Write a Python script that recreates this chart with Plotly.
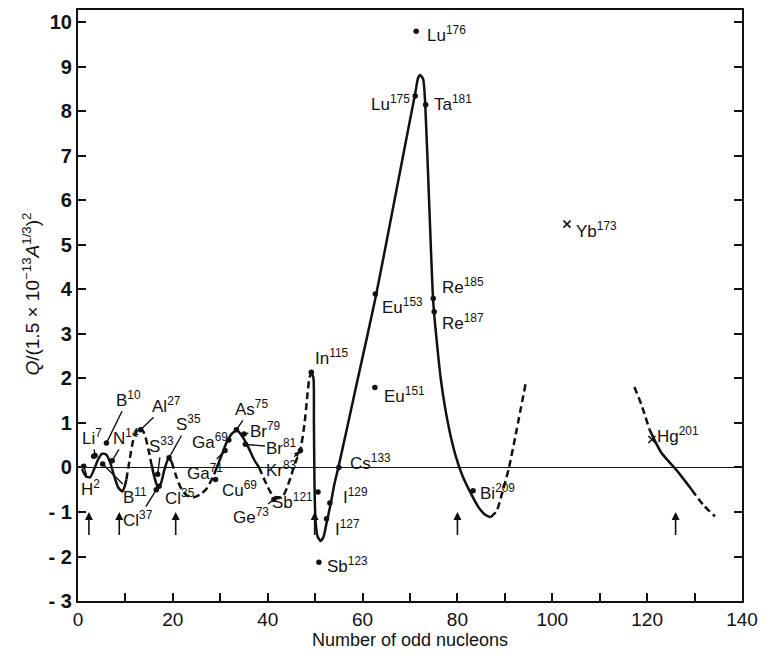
import plotly.graph_objects as go

# ---------------------------------------------------------------
# Reduced electric quadrupole moments vs. number of odd nucleons
# ---------------------------------------------------------------

# Measured nuclides: label, odd-nucleon number (as plotted), reduced Q
nuclide = ["H2", "Li6", "Li7", "B10", "B11", "N14", "Al27", "S33", "Cl35", "Cl37",
           "S35", "Cu69", "Ga71", "Ga69", "As75", "Br79", "Br81", "Ge73", "Kr83",
           "In115", "Sb121", "Sb123", "I127", "I129", "Cs133", "Eu151", "Eu153",
           "Lu175", "Lu176", "Ta181", "Re185", "Re187", "Bi209", "Yb173", "Hg201"]
odd_n = [1.2, 3.3, 3.6, 6.0, 5.2, 7.2, 13.2, 16.8, 17.1, 16.5,
         19.2, 29.0, 31.0, 31.8, 33.4, 35.0, 35.3, 41.3, 46.9,
         49.2, 50.6, 50.8, 52.4, 53.1, 55.0, 62.6, 62.7,
         71.1, 71.3, 73.3, 74.9, 75.1, 83.3, 103.1, 121.0]
q_red = [0.03, 0.25, 0.27, 0.55, 0.08, 0.15, 0.85, -0.15, -0.42, -0.50,
         0.22, -0.27, 0.38, 0.62, 0.85, 0.75, 0.52, -0.72, 0.38,
         2.14, -0.55, -2.13, -1.15, -0.80, 0.00, 1.80, 3.90,
         8.35, 9.80, 8.15, 3.80, 3.50, -0.52, 5.47, 0.63]

# Trend curve through the data, piece by piece
curve_x = [
    [0.85, 1.7, 2.55, 3.39, 4.24, 5.09, 5.94, 6.79, 7.64, 8.49, 9.33, 9.76, 10.2],
    [10.2, 10.82, 11.67, 12.52, 13.15, 14.0, 14.85, 15.49],
    [15.49, 16.12, 16.76, 17.39, 18.24, 19.09, 19.73],
    [19.73, 20.58, 21.64, 22.91, 24.4, 25.88, 27.15, 28.43, 29.27],
    [29.27, 30.34, 31.4, 32.46, 33.52, 34.58, 35.85, 37.12, 38.18],
    [38.18, 39.46, 40.73, 42.0, 43.28, 44.55, 45.82, 46.88, 47.73, 48.37, 48.79, 49.21],
    [49.21, 49.64, 49.74, 49.85, 50.06, 50.49, 51.12, 51.76, 52.4, 53.25, 54.09, 54.94,
     58.76, 62.79, 67.03, 70.0, 71.07, 71.7, 72.13, 72.76, 73.19, 74.03, 74.88, 75.52,
     76.58, 78.07, 79.55, 81.04, 82.73, 84.43, 85.92, 86.97],
    [86.97, 88.25, 89.52, 90.79, 92.49, 94.4],
    [117.31, 118.8, 120.5],
    [120.5, 123.0, 126.2, 129.4],
    [129.4, 131.9, 134.3],
]
curve_y = [
    [-0.04, -0.2, -0.22, -0.04, 0.18, 0.31, 0.29, 0.11, -0.2, -0.45, -0.54, -0.45, -0.27],
    [-0.27, 0.13, 0.63, 0.85, 0.89, 0.76, 0.4, 0.07],
    [0.07, -0.22, -0.42, -0.38, -0.04, 0.2, 0.13],
    [0.13, -0.16, -0.45, -0.63, -0.67, -0.6, -0.47, -0.22, 0.0],
    [0.0, 0.29, 0.58, 0.76, 0.83, 0.71, 0.47, 0.18, 0.0],
    [0.0, -0.31, -0.58, -0.69, -0.63, -0.31, 0.11, 0.4, 0.96, 1.63, 2.01, 2.14],
    [2.14, 2.01, 1.07, -0.27, -1.16, -1.54, -1.65, -1.56, -1.25, -0.83, -0.36, 0.02,
     1.88, 3.84, 6.17, 7.81, 8.39, 8.75, 8.82, 8.73, 8.21, 5.98, 3.75, 2.97,
     1.92, 0.96, 0.29, -0.18, -0.56, -0.89, -1.07, -1.12],
    [-1.12, -0.98, -0.54, -0.04, 0.85, 1.9],
    [1.81, 1.41, 0.85],
    [0.85, 0.33, -0.06, -0.5],
    [-0.5, -0.85, -1.1],
]

# Closed shells (magic numbers) marked by arrows
magic_n = [2.3, 8.7, 20.6, 49.9, 80.0, 126.0]

ytick_vals = list(range(-3, 11))
ytick_text = ["- 3", "- 2", "- 1", "0", "1", "2", "3", "4", "5", "6", "7", "8", "9", "10"]
xtick_vals = list(range(0, 141, 10))
xtick_text = [str(v) if v % 20 == 0 else "" for v in xtick_vals]

INK = "#111111"
FONT = "Liberation Sans, Arial, sans-serif"
LABEL_SIZE = 17

fig = go.Figure()

# solid / dashed pieces of the curve
segment_dashed = [False, True, False, True, False, True, False, True, True, False, True]
for xs, ys, dashed in zip(curve_x, curve_y, segment_dashed):
    fig.add_trace(go.Scatter(
        x=xs, y=ys, mode="lines", hoverinfo="skip", showlegend=False,
        line=dict(color=INK, width=2.5, dash="7px,4px" if dashed else "solid",
                  shape="spline", smoothing=0.6),
    ))

crosses = {"Yb173", "Hg201"}
dot_x = [x for n, x in zip(nuclide, odd_n) if n not in crosses]
dot_y = [y for n, y in zip(nuclide, q_red) if n not in crosses]
cx = [x for n, x in zip(nuclide, odd_n) if n in crosses]
cy = [y for n, y in zip(nuclide, q_red) if n in crosses]
fig.add_trace(go.Scatter(x=dot_x, y=dot_y, mode="markers", showlegend=False,
                         marker=dict(color=INK, size=5.5, symbol="circle")))
fig.add_trace(go.Scatter(x=cx, y=cy, mode="markers", showlegend=False,
                         marker=dict(color=INK, size=7, symbol="x-thin",
                                     line=dict(color=INK, width=1.6))))

# label placement: (dx, dy, leader line?) relative to each point
label_pos = {
    "H2": (1.5, -0.48, True), "Li7": (-0.6, 0.42, True), "B10": (4.6, 1.0, True),
    "N14": (3.0, 0.54, True), "B11": (6.9, -0.73, True), "Al27": (5.5, 0.56, True),
    "S33": (0.8, 0.66, True), "Cl37": (-3.8, -0.66, True), "S35": (4.1, 0.78, True),
    "Ga69": (-4.0, -0.02, True), "Ga71": (-4.3, -0.47, True), "As75": (3.2, 0.49, True),
    "Br79": (4.5, 0.1, True), "Br81": (7.7, -0.07, True), "Ge73": (-4.8, -0.38, True),
    "Kr83": (-4.0, -0.42, True),
    "Cl35": (0.8, -0.25, False), "Cu69": (0.9, -0.22, False), "Sb121": (-0.7, -0.2, False),
    "In115": (0.3, 0.35, False), "Sb123": (1.3, -0.07, False), "I127": (1.4, -0.2, False),
    "I129": (2.3, 0.15, False), "Cs133": (1.9, 0.12, False), "Eu151": (1.5, -0.16, False),
    "Eu153": (1.0, -0.27, False), "Lu175": (-0.7, -0.15, False), "Lu176": (1.9, -0.05, False),
    "Ta181": (1.3, 0.03, False), "Re185": (1.4, 0.28, False), "Re187": (1.2, -0.23, False),
    "Bi209": (1.0, -0.02, False), "Yb173": (1.5, -0.13, False), "Hg201": (0.7, 0.11, False),
}
right_aligned = {"Sb121", "Lu175"}

def label_text(name):
    el = name.rstrip("0123456789")
    return f"{el}<sup>{name[len(el):]}</sup>"

annotations = []
for n, x, y in zip(nuclide, odd_n, q_red):
    if n not in label_pos:
        continue
    dx, dy, leader = label_pos[n]
    if leader:
        annotations.append(dict(
            x=x, y=y, ax=x + dx, ay=y + dy, axref="x", ayref="y", xref="x", yref="y",
            text=label_text(n), showarrow=True, arrowhead=2 if n == "Kr83" else 0,
            arrowsize=0.8, arrowwidth=1.4, arrowcolor=INK, standoff=1,
            font=dict(family=FONT, size=LABEL_SIZE, color=INK)))
    else:
        annotations.append(dict(
            x=x + dx, y=y + dy, xref="x", yref="y", text=label_text(n), showarrow=False,
            xanchor="right" if n in right_aligned else "left", yanchor="middle",
            font=dict(family=FONT, size=LABEL_SIZE, color=INK)))

tip_y, tail_y = -1.0, -1.55
for m in magic_n:
    annotations.append(dict(
        x=m, y=tip_y, ax=m, ay=tail_y, axref="x", ayref="y", xref="x", yref="y",
        text="", showarrow=True, arrowhead=2, arrowsize=1.0, arrowwidth=1.6,
        arrowcolor=INK))

annotations.append(dict(
    x=-0.092, y=0.52, xref="paper", yref="paper", textangle=-90, showarrow=False,
    text="<i>Q</i>/(1.5 × 10<sup>−13</sup><i>A</i><sup>1/3</sup>)<sup>2</sup>",
    font=dict(family=FONT, size=19, color=INK)))

fig.update_layout(
    width=770, height=663,
    margin=dict(l=78, r=28, t=8, b=62),
    paper_bgcolor="white", plot_bgcolor="white",
    font=dict(family=FONT, color=INK),
    annotations=annotations,
    xaxis=dict(range=[0, 140], tickmode="array", tickvals=xtick_vals, ticktext=xtick_text,
               ticks="inside", ticklen=8, tickwidth=1.5, tickcolor=INK,
               showline=True, linewidth=2.2, linecolor=INK, mirror=True,
               showgrid=False, zeroline=False,
               tickfont=dict(family=FONT, size=19, color=INK),
               title=dict(text="Number of odd nucleons", standoff=2,
                          font=dict(family=FONT, size=18, color=INK))),
    yaxis=dict(range=[-3, 10.28], tickmode="array", tickvals=ytick_vals, ticktext=ytick_text,
               ticks="inside", ticklen=8, tickwidth=1.5, tickcolor=INK,
               showline=True, linewidth=2.2, linecolor=INK, mirror="ticks",
               showgrid=False, zeroline=True, zerolinecolor=INK, zerolinewidth=1.4,
               tickfont=dict(family=FONT, size=20, color=INK, weight="bold")),
)

fig.write_html("out.html")
